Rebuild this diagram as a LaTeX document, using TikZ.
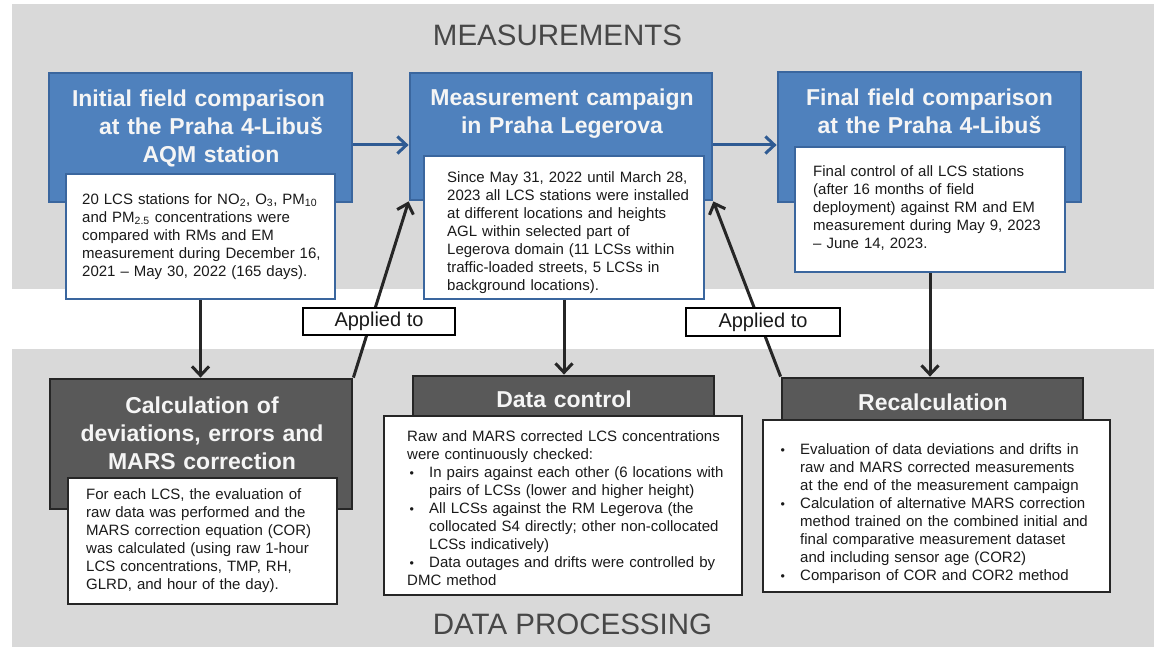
\documentclass[tikz,border=0pt]{standalone}
\usepackage{fontspec}
\setmainfont{Liberation Sans}
\usetikzlibrary{arrows.meta,calc}
\definecolor{bandgray}{HTML}{D9D9D9}
\definecolor{boxblue}{HTML}{4F81BD}
\definecolor{blueline}{HTML}{3A669E}
\definecolor{arrowblue}{HTML}{2F5B93}
\definecolor{darkbox}{HTML}{595959}
\definecolor{darkline}{HTML}{262626}
\definecolor{labelgray}{HTML}{474747}
\definecolor{bodytext}{HTML}{1A1A1A}
\newcommand\bul{\par\hangindent=22pt\hangafter=1\noindent\hbox to 22pt{\hspace{2.5pt}{\fontsize{12.5}{12.5}\selectfont\textbullet}\hfil}\strut}
\begin{document}
\begin{tikzpicture}[x=1pt,y=-1pt,
  bluebox/.style={draw=blueline,fill=boxblue,line width=2.8pt,inner sep=0pt},
  whitetop/.style={draw=blueline,fill=white,line width=2.4pt,inner sep=0pt},
  darkrect/.style={draw=darkline,fill=darkbox,line width=2.8pt,inner sep=0pt},
  whitebot/.style={draw=darkline,fill=white,line width=2.8pt,inner sep=0pt},
  titletext/.style={font=\fontsize{23}{28}\selectfont\bfseries,text=white!96!black,align=center,inner sep=0pt,anchor=north},
  bodyblock/.style={font=\fontsize{15}{18}\selectfont,text=bodytext,align=left,inner sep=0pt,anchor=north west},
  appliedbox/.style={draw=black,fill=white,line width=2.6pt,font=\fontsize{20}{24}\selectfont,text=bodytext,inner sep=0pt},
  bandlabel/.style={font=\fontsize{29.5}{35}\selectfont,text=labelgray,inner sep=0pt},
  barrow/.style={draw=arrowblue,line width=3pt,-{Straight Barb[length=9pt,width=17pt,line width=3pt]}},
  darrow/.style={draw=darkline,line width=3pt,-{Straight Barb[length=9pt,width=17pt,line width=3pt]}}
]
\useasboundingbox (0,0) rectangle (1154,647);
\fill[white] (0,0) rectangle (1154,647);
% bands
\fill[bandgray] (12,4) rectangle (1154,289);
\fill[bandgray] (12,349) rectangle (1154,647);
\node[bandlabel] (mlab) at (557.5,35.5) {MEASUREMENTS};
\node[bandlabel] (dlab) at (572.5,624) {DATA PROCESSING};

% top row
\node[bluebox,minimum width=303pt,minimum height=129pt] (tlB) at (200.5,137.5) {};
\node[bluebox,minimum width=302pt,minimum height=127pt] (tmB) at (561,136.5) {};
\node[bluebox,minimum width=303pt,minimum height=130pt] (trB) at (929.5,137) {};
\node[titletext,text width=300pt] (tlT) at (211,86.4) {\strut\makebox[278pt][l]{Initial field comparison}\\at the Praha 4-Libuš\\AQM station};
\node[titletext,text width=300pt] (tmT) at (562,85.4) {\strut Measurement campaign\\in Praha Legerova};
\node[titletext,text width=300pt] (trT) at (929.5,85.4) {\strut Final field comparison\\at the Praha 4-Libuš};

\node[whitetop,minimum width=269pt,minimum height=125pt] (tlW) at (200.5,236.5) {};
\node[whitetop,minimum width=280pt,minimum height=143pt] (tmW) at (564,227.5) {};
\node[whitetop,minimum width=270pt,minimum height=125pt] (trW) at (930,209.5) {};

\node[bodyblock,text width=250pt] (tlX) at (82,191.4) {\strut 20 LCS stations for NO\textsubscript{2}, O\textsubscript{3}, PM\textsubscript{10}\\
and PM\textsubscript{2.5} concentrations were\\
compared with RMs and EM\\
measurement during December 16,\\
2021 – May 30, 2022 (165 days).};
\node[bodyblock,text width=255pt] (tmX) at (447,169.4) {\strut Since May 31, 2022 until March 28,\\
2023 all LCS stations were installed\\
at different locations and heights\\
AGL within selected part of\\
Legerova domain (11 LCSs within\\
traffic-loaded streets, 5 LCSs in\\
background locations).};
\node[bodyblock,text width=250pt] (trX) at (813,163.4) {\strut Final control of all LCS stations\\
(after 16 months of field\\
deployment) against RM and EM\\
measurement during May 9, 2023\\
– June 14, 2023.};

% bottom row
\node[darkrect,minimum width=302pt,minimum height=130pt] (blD) at (201,444) {};
\node[darkrect,minimum width=301pt,minimum height=54pt] (dcD) at (563.5,403) {};
\node[darkrect,minimum width=301pt,minimum height=52pt] (rcD) at (932.5,404) {};
\node[titletext,text width=300pt] (blT) at (202,393.4) {\strut Calculation of\\deviations, errors and\\MARS correction};
\node[titletext,text width=300pt] (dcT) at (564,387.4) {\strut Data control};
\node[titletext,text width=300pt] (rcT) at (933,390.4) {\strut Recalculation};

\node[whitebot,minimum width=269pt,minimum height=126pt] (blW) at (202.5,541) {};
\node[whitebot,minimum width=358pt,minimum height=179pt] (dcW) at (563,505.5) {};
\node[whitebot,minimum width=347pt,minimum height=172pt] (rcW) at (936.5,506) {};

\node[bodyblock,text width=250pt] (blX) at (86,486.4) {\strut For each LCS, the evaluation of\\
raw data was performed and the\\
MARS correction equation (COR)\\
was calculated (using raw 1-hour\\
LCS concentrations, TMP, RH,\\
GLRD, and hour of the day).};
\node[bodyblock,text width=332pt] (dcX) at (407,428.4) {\strut Raw and MARS corrected LCS concentrations\newline
were continuously checked:
\bul In pairs against each other (6 locations with\newline pairs of LCSs (lower and higher height)
\bul All LCSs against the RM Legerova (the\newline collocated S4 directly; other non-collocated\newline LCSs indicatively)
\bul Data outages and drifts were controlled by\newline DMC method};
\node[bodyblock,text width=328pt] (rcX) at (778,436.4) {\bul Evaluation of data deviations and drifts in\newline raw and MARS corrected measurements\newline at the end of the measurement campaign
\bul Calculation of alternative MARS correction\newline method trained on the combined initial and\newline final comparative measurement dataset\newline and including sensor age (COR2)
\bul Comparison of COR and COR2 method};

% connectors
\draw[barrow] (tlB.east |- 0,145) -- (tmB.west |- 0,145);
\draw[barrow] (tmB.east |- 0,145) -- (trB.west |- 0,145);
\draw[darrow] (tlW.south) -- (tlW.south |- blD.north);
\draw[darrow] (tmW.south) -- (tmW.south |- dcD.north);
\draw[darrow] (trW.south) -- (trW.south |- rcD.north);
\draw[darrow] (blD.north east) -- (tmB.south west);
\draw[darrow] (rcD.north west) -- (tmB.south east);

\node[appliedbox,minimum width=152pt,minimum height=27pt] (ap1) at (379,321.5) {Applied to};
\node[appliedbox,minimum width=154pt,minimum height=28pt] (ap2) at (763,322) {Applied to};
\end{tikzpicture}
\end{document}
